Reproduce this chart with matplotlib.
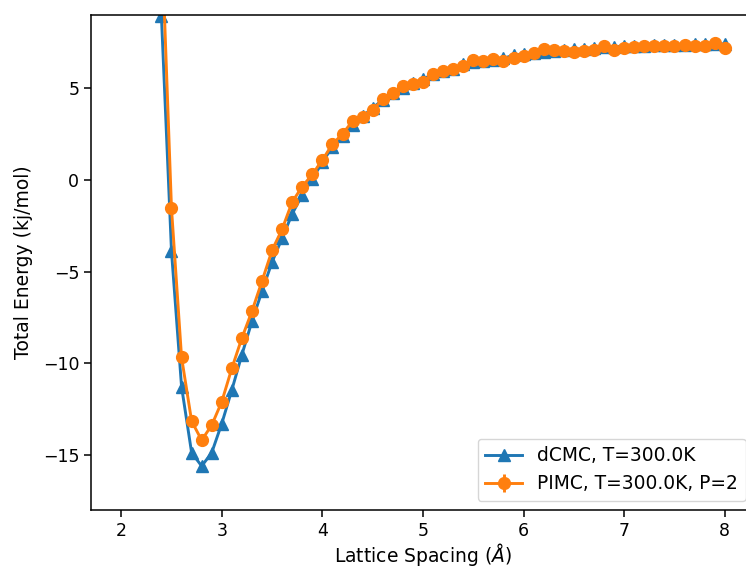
import numpy as np
import matplotlib
matplotlib.use('Agg')
import matplotlib.pyplot as plt

# lattice spacing 2.4 .. 8.0 in steps of 0.1
spacing = [2.4, 2.5, 2.6, 2.7, 2.8, 2.9, 3.0, 3.1, 3.2, 3.3, 3.4, 3.5, 3.6, 3.7, 3.8, 3.9,
           4.0, 4.1, 4.2, 4.3, 4.4, 4.5, 4.6, 4.7, 4.8, 4.9, 5.0, 5.1, 5.2, 5.3, 5.4, 5.5,
           5.6, 5.7, 5.8, 5.9, 6.0, 6.1, 6.2, 6.3, 6.4, 6.5, 6.6, 6.7, 6.8, 6.9, 7.0, 7.1,
           7.2, 7.3, 7.4, 7.5, 7.6, 7.7, 7.8, 7.9, 8.0]

e_dcmc = [8.9, -3.9, -11.27, -14.87, -15.6, -14.87, -13.28, -11.45, -9.53, -7.71, -6.07, -4.48,
          -3.18, -1.86, -0.82, 0.05,
          0.95, 1.8, 2.4, 3.0, 3.45, 3.92, 4.35, 4.7, 5.0, 5.25, 5.48, 5.75, 5.9, 6.03, 6.3, 6.4,
          6.48, 6.55, 6.62, 6.78, 6.85, 6.9, 6.95, 7.0, 7.05, 7.1, 7.12, 7.2, 7.22, 7.25, 7.28, 7.3,
          7.31, 7.33, 7.34, 7.35, 7.36, 7.37, 7.38, 7.39, 7.4]

e_pimc = [13.5, -1.56, -9.67, -13.15, -14.19, -13.37, -12.09, -10.27, -8.62, -7.16, -5.52, -3.84,
          -2.69, -1.21, -0.37, 0.29,
          1.08, 1.93, 2.5, 3.19, 3.43, 3.8, 4.38, 4.75, 5.11, 5.22, 5.35, 5.75, 5.9, 6.03, 6.21, 6.5,
          6.47, 6.58, 6.47, 6.61, 6.72, 6.9, 7.12, 7.08, 7.01, 6.96, 6.99, 7.05, 7.27, 7.08, 7.19, 7.23,
          7.27, 7.27, 7.27, 7.27, 7.34, 7.3, 7.3, 7.45, 7.16]

err_pimc = [0.3, 0.2, 0.15, 0.12, 0.1, 0.1, 0.1, 0.1, 0.1, 0.1, 0.1, 0.1, 0.1, 0.1, 0.1, 0.1,
            0.1, 0.1, 0.1, 0.1, 0.1, 0.1, 0.1, 0.1, 0.1, 0.1, 0.1, 0.1, 0.1, 0.1, 0.1, 0.1,
            0.1, 0.1, 0.1, 0.1, 0.1, 0.1, 0.1, 0.1, 0.1, 0.1, 0.1, 0.1, 0.1, 0.1, 0.1, 0.1,
            0.1, 0.1, 0.1, 0.1, 0.1, 0.1, 0.1, 0.1, 0.1]

plt.rcParams['font.size'] = 12.5

fig = plt.figure(figsize=(7.46, 5.70), dpi=100)
ax = fig.add_axes([0.122, 0.105, 0.890, 0.8695])

ax.plot(spacing, e_dcmc, marker='^', color='#1f77b4', lw=2.1, ms=8.5,
        label='dCMC, T=300.0K')
ax.errorbar(spacing, e_pimc, yerr=err_pimc, marker='o', color='#ff7f0e', lw=2.1, ms=8.5,
            label='PIMC, T=300.0K, P=2')

ax.set_xlim(1.7, 8.3)
ax.set_ylim(-18, 9)
ax.set_xticks([2, 3, 4, 5, 6, 7, 8])
ax.set_yticks([-15, -10, -5, 0, 5])
ax.set_xlabel(r'Lattice Spacing ($\AA$)', fontsize=13.5, labelpad=1)
ax.set_ylabel('Total Energy (kj/mol)', fontsize=13.5, labelpad=7)
ax.tick_params(length=5, width=1.1, labelsize=12.5)
for s in ax.spines.values():
    s.set_linewidth(1.1)

ax.legend(loc='lower right', fontsize=13.4)

fig.savefig('out.png', dpi=100)
